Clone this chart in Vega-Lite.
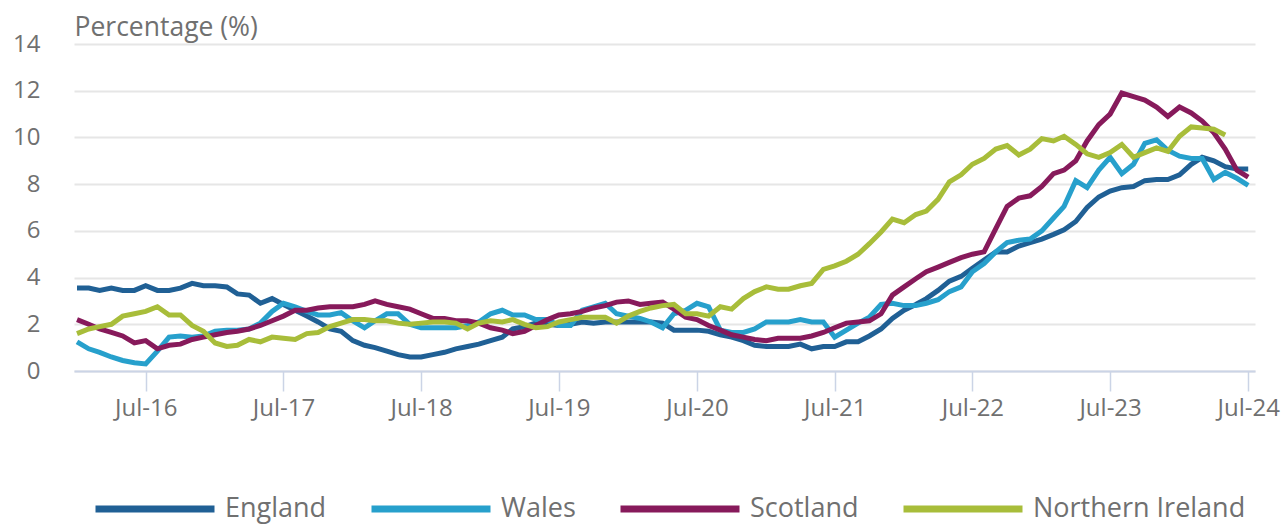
{
 "$schema": "https://vega.github.io/schema/vega-lite/v6.json",
 "width": 1181, "height": 327,
 "autosize": {"type": "none"},
 "padding": {"left": 74, "top": 44, "right": 30, "bottom": 156},
 "background": "white",
 "config": {"view": {"stroke": null}, "font": "Open Sans"},
 "data": {"values": [
{"date":"2016-01-01","region":"England","value":3.55},{"date":"2016-01-01","region":"Wales","value":1.25},{"date":"2016-01-01","region":"Scotland","value":2.2},{"date":"2016-01-01","region":"Northern Ireland","value":1.6},
{"date":"2016-02-01","region":"England","value":3.55},{"date":"2016-02-01","region":"Wales","value":0.95},{"date":"2016-02-01","region":"Scotland","value":2.0},{"date":"2016-02-01","region":"Northern Ireland","value":1.8},
{"date":"2016-03-01","region":"England","value":3.45},{"date":"2016-03-01","region":"Wales","value":0.8},{"date":"2016-03-01","region":"Scotland","value":1.8},{"date":"2016-03-01","region":"Northern Ireland","value":1.9},
{"date":"2016-04-01","region":"England","value":3.55},{"date":"2016-04-01","region":"Wales","value":0.6},{"date":"2016-04-01","region":"Scotland","value":1.65},{"date":"2016-04-01","region":"Northern Ireland","value":2.0},
{"date":"2016-05-01","region":"England","value":3.45},{"date":"2016-05-01","region":"Wales","value":0.45},{"date":"2016-05-01","region":"Scotland","value":1.5},{"date":"2016-05-01","region":"Northern Ireland","value":2.35},
{"date":"2016-06-01","region":"England","value":3.45},{"date":"2016-06-01","region":"Wales","value":0.35},{"date":"2016-06-01","region":"Scotland","value":1.2},{"date":"2016-06-01","region":"Northern Ireland","value":2.45},
{"date":"2016-07-01","region":"England","value":3.65},{"date":"2016-07-01","region":"Wales","value":0.3},{"date":"2016-07-01","region":"Scotland","value":1.3},{"date":"2016-07-01","region":"Northern Ireland","value":2.55},
{"date":"2016-08-01","region":"England","value":3.45},{"date":"2016-08-01","region":"Wales","value":0.85},{"date":"2016-08-01","region":"Scotland","value":0.95},{"date":"2016-08-01","region":"Northern Ireland","value":2.75},
{"date":"2016-09-01","region":"England","value":3.45},{"date":"2016-09-01","region":"Wales","value":1.45},{"date":"2016-09-01","region":"Scotland","value":1.1},{"date":"2016-09-01","region":"Northern Ireland","value":2.4},
{"date":"2016-10-01","region":"England","value":3.55},{"date":"2016-10-01","region":"Wales","value":1.5},{"date":"2016-10-01","region":"Scotland","value":1.15},{"date":"2016-10-01","region":"Northern Ireland","value":2.4},
{"date":"2016-11-01","region":"England","value":3.75},{"date":"2016-11-01","region":"Wales","value":1.45},{"date":"2016-11-01","region":"Scotland","value":1.35},{"date":"2016-11-01","region":"Northern Ireland","value":1.95},
{"date":"2016-12-01","region":"England","value":3.65},{"date":"2016-12-01","region":"Wales","value":1.5},{"date":"2016-12-01","region":"Scotland","value":1.45},{"date":"2016-12-01","region":"Northern Ireland","value":1.7},
{"date":"2017-01-01","region":"England","value":3.65},{"date":"2017-01-01","region":"Wales","value":1.7},{"date":"2017-01-01","region":"Scotland","value":1.55},{"date":"2017-01-01","region":"Northern Ireland","value":1.2},
{"date":"2017-02-01","region":"England","value":3.6},{"date":"2017-02-01","region":"Wales","value":1.75},{"date":"2017-02-01","region":"Scotland","value":1.65},{"date":"2017-02-01","region":"Northern Ireland","value":1.05},
{"date":"2017-03-01","region":"England","value":3.3},{"date":"2017-03-01","region":"Wales","value":1.75},{"date":"2017-03-01","region":"Scotland","value":1.7},{"date":"2017-03-01","region":"Northern Ireland","value":1.1},
{"date":"2017-04-01","region":"England","value":3.25},{"date":"2017-04-01","region":"Wales","value":1.8},{"date":"2017-04-01","region":"Scotland","value":1.8},{"date":"2017-04-01","region":"Northern Ireland","value":1.35},
{"date":"2017-05-01","region":"England","value":2.9},{"date":"2017-05-01","region":"Wales","value":2.05},{"date":"2017-05-01","region":"Scotland","value":1.95},{"date":"2017-05-01","region":"Northern Ireland","value":1.25},
{"date":"2017-06-01","region":"England","value":3.1},{"date":"2017-06-01","region":"Wales","value":2.55},{"date":"2017-06-01","region":"Scotland","value":2.15},{"date":"2017-06-01","region":"Northern Ireland","value":1.45},
{"date":"2017-07-01","region":"England","value":2.85},{"date":"2017-07-01","region":"Wales","value":2.9},{"date":"2017-07-01","region":"Scotland","value":2.35},{"date":"2017-07-01","region":"Northern Ireland","value":1.4},
{"date":"2017-08-01","region":"England","value":2.6},{"date":"2017-08-01","region":"Wales","value":2.75},{"date":"2017-08-01","region":"Scotland","value":2.6},{"date":"2017-08-01","region":"Northern Ireland","value":1.35},
{"date":"2017-09-01","region":"England","value":2.35},{"date":"2017-09-01","region":"Wales","value":2.55},{"date":"2017-09-01","region":"Scotland","value":2.6},{"date":"2017-09-01","region":"Northern Ireland","value":1.6},
{"date":"2017-10-01","region":"England","value":2.1},{"date":"2017-10-01","region":"Wales","value":2.4},{"date":"2017-10-01","region":"Scotland","value":2.7},{"date":"2017-10-01","region":"Northern Ireland","value":1.65},
{"date":"2017-11-01","region":"England","value":1.8},{"date":"2017-11-01","region":"Wales","value":2.4},{"date":"2017-11-01","region":"Scotland","value":2.75},{"date":"2017-11-01","region":"Northern Ireland","value":1.9},
{"date":"2017-12-01","region":"England","value":1.7},{"date":"2017-12-01","region":"Wales","value":2.5},{"date":"2017-12-01","region":"Scotland","value":2.75},{"date":"2017-12-01","region":"Northern Ireland","value":2.05},
{"date":"2018-01-01","region":"England","value":1.3},{"date":"2018-01-01","region":"Wales","value":2.15},{"date":"2018-01-01","region":"Scotland","value":2.75},{"date":"2018-01-01","region":"Northern Ireland","value":2.2},
{"date":"2018-02-01","region":"England","value":1.1},{"date":"2018-02-01","region":"Wales","value":1.85},{"date":"2018-02-01","region":"Scotland","value":2.85},{"date":"2018-02-01","region":"Northern Ireland","value":2.2},
{"date":"2018-03-01","region":"England","value":1.0},{"date":"2018-03-01","region":"Wales","value":2.15},{"date":"2018-03-01","region":"Scotland","value":3.0},{"date":"2018-03-01","region":"Northern Ireland","value":2.15},
{"date":"2018-04-01","region":"England","value":0.85},{"date":"2018-04-01","region":"Wales","value":2.45},{"date":"2018-04-01","region":"Scotland","value":2.85},{"date":"2018-04-01","region":"Northern Ireland","value":2.15},
{"date":"2018-05-01","region":"England","value":0.7},{"date":"2018-05-01","region":"Wales","value":2.45},{"date":"2018-05-01","region":"Scotland","value":2.75},{"date":"2018-05-01","region":"Northern Ireland","value":2.05},
{"date":"2018-06-01","region":"England","value":0.6},{"date":"2018-06-01","region":"Wales","value":2.0},{"date":"2018-06-01","region":"Scotland","value":2.65},{"date":"2018-06-01","region":"Northern Ireland","value":2.0},
{"date":"2018-07-01","region":"England","value":0.6},{"date":"2018-07-01","region":"Wales","value":1.85},{"date":"2018-07-01","region":"Scotland","value":2.45},{"date":"2018-07-01","region":"Northern Ireland","value":2.05},
{"date":"2018-08-01","region":"England","value":0.7},{"date":"2018-08-01","region":"Wales","value":1.85},{"date":"2018-08-01","region":"Scotland","value":2.25},{"date":"2018-08-01","region":"Northern Ireland","value":2.1},
{"date":"2018-09-01","region":"England","value":0.8},{"date":"2018-09-01","region":"Wales","value":1.85},{"date":"2018-09-01","region":"Scotland","value":2.25},{"date":"2018-09-01","region":"Northern Ireland","value":2.1},
{"date":"2018-10-01","region":"England","value":0.95},{"date":"2018-10-01","region":"Wales","value":1.85},{"date":"2018-10-01","region":"Scotland","value":2.15},{"date":"2018-10-01","region":"Northern Ireland","value":2.05},
{"date":"2018-11-01","region":"England","value":1.05},{"date":"2018-11-01","region":"Wales","value":1.95},{"date":"2018-11-01","region":"Scotland","value":2.15},{"date":"2018-11-01","region":"Northern Ireland","value":1.8},
{"date":"2018-12-01","region":"England","value":1.15},{"date":"2018-12-01","region":"Wales","value":2.1},{"date":"2018-12-01","region":"Scotland","value":2.05},{"date":"2018-12-01","region":"Northern Ireland","value":2.05},
{"date":"2019-01-01","region":"England","value":1.3},{"date":"2019-01-01","region":"Wales","value":2.45},{"date":"2019-01-01","region":"Scotland","value":1.85},{"date":"2019-01-01","region":"Northern Ireland","value":2.15},
{"date":"2019-02-01","region":"England","value":1.45},{"date":"2019-02-01","region":"Wales","value":2.6},{"date":"2019-02-01","region":"Scotland","value":1.75},{"date":"2019-02-01","region":"Northern Ireland","value":2.1},
{"date":"2019-03-01","region":"England","value":1.8},{"date":"2019-03-01","region":"Wales","value":2.4},{"date":"2019-03-01","region":"Scotland","value":1.6},{"date":"2019-03-01","region":"Northern Ireland","value":2.2},
{"date":"2019-04-01","region":"England","value":1.9},{"date":"2019-04-01","region":"Wales","value":2.4},{"date":"2019-04-01","region":"Scotland","value":1.7},{"date":"2019-04-01","region":"Northern Ireland","value":2.0},
{"date":"2019-05-01","region":"England","value":2.05},{"date":"2019-05-01","region":"Wales","value":2.2},{"date":"2019-05-01","region":"Scotland","value":1.95},{"date":"2019-05-01","region":"Northern Ireland","value":1.85},
{"date":"2019-06-01","region":"England","value":2.0},{"date":"2019-06-01","region":"Wales","value":2.2},{"date":"2019-06-01","region":"Scotland","value":2.2},{"date":"2019-06-01","region":"Northern Ireland","value":1.9},
{"date":"2019-07-01","region":"England","value":1.95},{"date":"2019-07-01","region":"Wales","value":1.95},{"date":"2019-07-01","region":"Scotland","value":2.4},{"date":"2019-07-01","region":"Northern Ireland","value":2.1},
{"date":"2019-08-01","region":"England","value":2.0},{"date":"2019-08-01","region":"Wales","value":1.95},{"date":"2019-08-01","region":"Scotland","value":2.45},{"date":"2019-08-01","region":"Northern Ireland","value":2.2},
{"date":"2019-09-01","region":"England","value":2.1},{"date":"2019-09-01","region":"Wales","value":2.6},{"date":"2019-09-01","region":"Scotland","value":2.55},{"date":"2019-09-01","region":"Northern Ireland","value":2.3},
{"date":"2019-10-01","region":"England","value":2.05},{"date":"2019-10-01","region":"Wales","value":2.75},{"date":"2019-10-01","region":"Scotland","value":2.7},{"date":"2019-10-01","region":"Northern Ireland","value":2.3},
{"date":"2019-11-01","region":"England","value":2.1},{"date":"2019-11-01","region":"Wales","value":2.9},{"date":"2019-11-01","region":"Scotland","value":2.8},{"date":"2019-11-01","region":"Northern Ireland","value":2.3},
{"date":"2019-12-01","region":"England","value":2.1},{"date":"2019-12-01","region":"Wales","value":2.45},{"date":"2019-12-01","region":"Scotland","value":2.95},{"date":"2019-12-01","region":"Northern Ireland","value":2.05},
{"date":"2020-01-01","region":"England","value":2.1},{"date":"2020-01-01","region":"Wales","value":2.35},{"date":"2020-01-01","region":"Scotland","value":3.0},{"date":"2020-01-01","region":"Northern Ireland","value":2.35},
{"date":"2020-02-01","region":"England","value":2.1},{"date":"2020-02-01","region":"Wales","value":2.25},{"date":"2020-02-01","region":"Scotland","value":2.85},{"date":"2020-02-01","region":"Northern Ireland","value":2.55},
{"date":"2020-03-01","region":"England","value":2.1},{"date":"2020-03-01","region":"Wales","value":2.1},{"date":"2020-03-01","region":"Scotland","value":2.9},{"date":"2020-03-01","region":"Northern Ireland","value":2.7},
{"date":"2020-04-01","region":"England","value":2.05},{"date":"2020-04-01","region":"Wales","value":1.85},{"date":"2020-04-01","region":"Scotland","value":2.95},{"date":"2020-04-01","region":"Northern Ireland","value":2.8},
{"date":"2020-05-01","region":"England","value":1.75},{"date":"2020-05-01","region":"Wales","value":2.45},{"date":"2020-05-01","region":"Scotland","value":2.65},{"date":"2020-05-01","region":"Northern Ireland","value":2.85},
{"date":"2020-06-01","region":"England","value":1.75},{"date":"2020-06-01","region":"Wales","value":2.6},{"date":"2020-06-01","region":"Scotland","value":2.3},{"date":"2020-06-01","region":"Northern Ireland","value":2.45},
{"date":"2020-07-01","region":"England","value":1.75},{"date":"2020-07-01","region":"Wales","value":2.9},{"date":"2020-07-01","region":"Scotland","value":2.2},{"date":"2020-07-01","region":"Northern Ireland","value":2.45},
{"date":"2020-08-01","region":"England","value":1.7},{"date":"2020-08-01","region":"Wales","value":2.75},{"date":"2020-08-01","region":"Scotland","value":1.95},{"date":"2020-08-01","region":"Northern Ireland","value":2.35},
{"date":"2020-09-01","region":"England","value":1.55},{"date":"2020-09-01","region":"Wales","value":1.75},{"date":"2020-09-01","region":"Scotland","value":1.75},{"date":"2020-09-01","region":"Northern Ireland","value":2.75},
{"date":"2020-10-01","region":"England","value":1.45},{"date":"2020-10-01","region":"Wales","value":1.65},{"date":"2020-10-01","region":"Scotland","value":1.55},{"date":"2020-10-01","region":"Northern Ireland","value":2.65},
{"date":"2020-11-01","region":"England","value":1.3},{"date":"2020-11-01","region":"Wales","value":1.65},{"date":"2020-11-01","region":"Scotland","value":1.45},{"date":"2020-11-01","region":"Northern Ireland","value":3.1},
{"date":"2020-12-01","region":"England","value":1.1},{"date":"2020-12-01","region":"Wales","value":1.8},{"date":"2020-12-01","region":"Scotland","value":1.35},{"date":"2020-12-01","region":"Northern Ireland","value":3.4},
{"date":"2021-01-01","region":"England","value":1.05},{"date":"2021-01-01","region":"Wales","value":2.1},{"date":"2021-01-01","region":"Scotland","value":1.3},{"date":"2021-01-01","region":"Northern Ireland","value":3.6},
{"date":"2021-02-01","region":"England","value":1.05},{"date":"2021-02-01","region":"Wales","value":2.1},{"date":"2021-02-01","region":"Scotland","value":1.4},{"date":"2021-02-01","region":"Northern Ireland","value":3.5},
{"date":"2021-03-01","region":"England","value":1.05},{"date":"2021-03-01","region":"Wales","value":2.1},{"date":"2021-03-01","region":"Scotland","value":1.4},{"date":"2021-03-01","region":"Northern Ireland","value":3.5},
{"date":"2021-04-01","region":"England","value":1.15},{"date":"2021-04-01","region":"Wales","value":2.2},{"date":"2021-04-01","region":"Scotland","value":1.4},{"date":"2021-04-01","region":"Northern Ireland","value":3.65},
{"date":"2021-05-01","region":"England","value":0.95},{"date":"2021-05-01","region":"Wales","value":2.1},{"date":"2021-05-01","region":"Scotland","value":1.5},{"date":"2021-05-01","region":"Northern Ireland","value":3.75},
{"date":"2021-06-01","region":"England","value":1.05},{"date":"2021-06-01","region":"Wales","value":2.1},{"date":"2021-06-01","region":"Scotland","value":1.65},{"date":"2021-06-01","region":"Northern Ireland","value":4.35},
{"date":"2021-07-01","region":"England","value":1.05},{"date":"2021-07-01","region":"Wales","value":1.45},{"date":"2021-07-01","region":"Scotland","value":1.85},{"date":"2021-07-01","region":"Northern Ireland","value":4.5},
{"date":"2021-08-01","region":"England","value":1.25},{"date":"2021-08-01","region":"Wales","value":1.75},{"date":"2021-08-01","region":"Scotland","value":2.05},{"date":"2021-08-01","region":"Northern Ireland","value":4.7},
{"date":"2021-09-01","region":"England","value":1.25},{"date":"2021-09-01","region":"Wales","value":2.05},{"date":"2021-09-01","region":"Scotland","value":2.1},{"date":"2021-09-01","region":"Northern Ireland","value":5.0},
{"date":"2021-10-01","region":"England","value":1.5},{"date":"2021-10-01","region":"Wales","value":2.3},{"date":"2021-10-01","region":"Scotland","value":2.15},{"date":"2021-10-01","region":"Northern Ireland","value":5.45},
{"date":"2021-11-01","region":"England","value":1.8},{"date":"2021-11-01","region":"Wales","value":2.85},{"date":"2021-11-01","region":"Scotland","value":2.45},{"date":"2021-11-01","region":"Northern Ireland","value":5.95},
{"date":"2021-12-01","region":"England","value":2.25},{"date":"2021-12-01","region":"Wales","value":2.9},{"date":"2021-12-01","region":"Scotland","value":3.25},{"date":"2021-12-01","region":"Northern Ireland","value":6.5},
{"date":"2022-01-01","region":"England","value":2.6},{"date":"2022-01-01","region":"Wales","value":2.8},{"date":"2022-01-01","region":"Scotland","value":3.6},{"date":"2022-01-01","region":"Northern Ireland","value":6.35},
{"date":"2022-02-01","region":"England","value":2.85},{"date":"2022-02-01","region":"Wales","value":2.8},{"date":"2022-02-01","region":"Scotland","value":3.95},{"date":"2022-02-01","region":"Northern Ireland","value":6.7},
{"date":"2022-03-01","region":"England","value":3.1},{"date":"2022-03-01","region":"Wales","value":2.9},{"date":"2022-03-01","region":"Scotland","value":4.25},{"date":"2022-03-01","region":"Northern Ireland","value":6.85},
{"date":"2022-04-01","region":"England","value":3.45},{"date":"2022-04-01","region":"Wales","value":3.05},{"date":"2022-04-01","region":"Scotland","value":4.45},{"date":"2022-04-01","region":"Northern Ireland","value":7.35},
{"date":"2022-05-01","region":"England","value":3.85},{"date":"2022-05-01","region":"Wales","value":3.4},{"date":"2022-05-01","region":"Scotland","value":4.65},{"date":"2022-05-01","region":"Northern Ireland","value":8.1},
{"date":"2022-06-01","region":"England","value":4.05},{"date":"2022-06-01","region":"Wales","value":3.6},{"date":"2022-06-01","region":"Scotland","value":4.85},{"date":"2022-06-01","region":"Northern Ireland","value":8.4},
{"date":"2022-07-01","region":"England","value":4.4},{"date":"2022-07-01","region":"Wales","value":4.25},{"date":"2022-07-01","region":"Scotland","value":5.0},{"date":"2022-07-01","region":"Northern Ireland","value":8.85},
{"date":"2022-08-01","region":"England","value":4.75},{"date":"2022-08-01","region":"Wales","value":4.6},{"date":"2022-08-01","region":"Scotland","value":5.1},{"date":"2022-08-01","region":"Northern Ireland","value":9.1},
{"date":"2022-09-01","region":"England","value":5.1},{"date":"2022-09-01","region":"Wales","value":5.1},{"date":"2022-09-01","region":"Scotland","value":6.1},{"date":"2022-09-01","region":"Northern Ireland","value":9.5},
{"date":"2022-10-01","region":"England","value":5.1},{"date":"2022-10-01","region":"Wales","value":5.5},{"date":"2022-10-01","region":"Scotland","value":7.05},{"date":"2022-10-01","region":"Northern Ireland","value":9.65},
{"date":"2022-11-01","region":"England","value":5.35},{"date":"2022-11-01","region":"Wales","value":5.6},{"date":"2022-11-01","region":"Scotland","value":7.4},{"date":"2022-11-01","region":"Northern Ireland","value":9.25},
{"date":"2022-12-01","region":"England","value":5.5},{"date":"2022-12-01","region":"Wales","value":5.65},{"date":"2022-12-01","region":"Scotland","value":7.5},{"date":"2022-12-01","region":"Northern Ireland","value":9.5},
{"date":"2023-01-01","region":"England","value":5.65},{"date":"2023-01-01","region":"Wales","value":6.0},{"date":"2023-01-01","region":"Scotland","value":7.9},{"date":"2023-01-01","region":"Northern Ireland","value":9.95},
{"date":"2023-02-01","region":"England","value":5.85},{"date":"2023-02-01","region":"Wales","value":6.55},{"date":"2023-02-01","region":"Scotland","value":8.45},{"date":"2023-02-01","region":"Northern Ireland","value":9.85},
{"date":"2023-03-01","region":"England","value":6.05},{"date":"2023-03-01","region":"Wales","value":7.05},{"date":"2023-03-01","region":"Scotland","value":8.6},{"date":"2023-03-01","region":"Northern Ireland","value":10.05},
{"date":"2023-04-01","region":"England","value":6.4},{"date":"2023-04-01","region":"Wales","value":8.15},{"date":"2023-04-01","region":"Scotland","value":9.0},{"date":"2023-04-01","region":"Northern Ireland","value":9.7},
{"date":"2023-05-01","region":"England","value":7.0},{"date":"2023-05-01","region":"Wales","value":7.85},{"date":"2023-05-01","region":"Scotland","value":9.85},{"date":"2023-05-01","region":"Northern Ireland","value":9.3},
{"date":"2023-06-01","region":"England","value":7.45},{"date":"2023-06-01","region":"Wales","value":8.6},{"date":"2023-06-01","region":"Scotland","value":10.55},{"date":"2023-06-01","region":"Northern Ireland","value":9.15},
{"date":"2023-07-01","region":"England","value":7.7},{"date":"2023-07-01","region":"Wales","value":9.15},{"date":"2023-07-01","region":"Scotland","value":11.0},{"date":"2023-07-01","region":"Northern Ireland","value":9.35},
{"date":"2023-08-01","region":"England","value":7.85},{"date":"2023-08-01","region":"Wales","value":8.45},{"date":"2023-08-01","region":"Scotland","value":11.9},{"date":"2023-08-01","region":"Northern Ireland","value":9.7},
{"date":"2023-09-01","region":"England","value":7.9},{"date":"2023-09-01","region":"Wales","value":8.85},{"date":"2023-09-01","region":"Scotland","value":11.75},{"date":"2023-09-01","region":"Northern Ireland","value":9.15},
{"date":"2023-10-01","region":"England","value":8.15},{"date":"2023-10-01","region":"Wales","value":9.75},{"date":"2023-10-01","region":"Scotland","value":11.6},{"date":"2023-10-01","region":"Northern Ireland","value":9.35},
{"date":"2023-11-01","region":"England","value":8.2},{"date":"2023-11-01","region":"Wales","value":9.9},{"date":"2023-11-01","region":"Scotland","value":11.3},{"date":"2023-11-01","region":"Northern Ireland","value":9.55},
{"date":"2023-12-01","region":"England","value":8.2},{"date":"2023-12-01","region":"Wales","value":9.45},{"date":"2023-12-01","region":"Scotland","value":10.9},{"date":"2023-12-01","region":"Northern Ireland","value":9.4},
{"date":"2024-01-01","region":"England","value":8.4},{"date":"2024-01-01","region":"Wales","value":9.2},{"date":"2024-01-01","region":"Scotland","value":11.3},{"date":"2024-01-01","region":"Northern Ireland","value":10.05},
{"date":"2024-02-01","region":"England","value":8.85},{"date":"2024-02-01","region":"Wales","value":9.1},{"date":"2024-02-01","region":"Scotland","value":11.05},{"date":"2024-02-01","region":"Northern Ireland","value":10.45},
{"date":"2024-03-01","region":"England","value":9.15},{"date":"2024-03-01","region":"Wales","value":9.1},{"date":"2024-03-01","region":"Scotland","value":10.7},{"date":"2024-03-01","region":"Northern Ireland","value":10.4},
{"date":"2024-04-01","region":"England","value":9.0},{"date":"2024-04-01","region":"Wales","value":8.2},{"date":"2024-04-01","region":"Scotland","value":10.2},{"date":"2024-04-01","region":"Northern Ireland","value":10.35},
{"date":"2024-05-01","region":"England","value":8.75},{"date":"2024-05-01","region":"Wales","value":8.5},{"date":"2024-05-01","region":"Scotland","value":9.5},{"date":"2024-05-01","region":"Northern Ireland","value":10.1},
{"date":"2024-06-01","region":"England","value":8.65},{"date":"2024-06-01","region":"Wales","value":8.25},{"date":"2024-06-01","region":"Scotland","value":8.6},
{"date":"2024-07-01","region":"England","value":8.65},{"date":"2024-07-01","region":"Wales","value":7.95},{"date":"2024-07-01","region":"Scotland","value":8.3}
 ]},
 "mark": {"type": "line", "strokeWidth": 5},
 "encoding": {
  "x": {
   "field": "date", "type": "temporal",
   "scale": {"type": "utc", "domain": [{"year": 2015, "month": 12, "date": 24, "utc": true}, {"year": 2024, "month": 7, "date": 19, "utc": true}]},
   "axis": {
    "title": null, "format": "%b-%y",
    "values": [{"year": 2016, "month": 7, "date": 1, "utc": true}, {"year": 2017, "month": 7, "date": 1, "utc": true}, {"year": 2018, "month": 7, "date": 1, "utc": true}, {"year": 2019, "month": 7, "date": 1, "utc": true}, {"year": 2020, "month": 7, "date": 1, "utc": true}, {"year": 2021, "month": 7, "date": 1, "utc": true}, {"year": 2022, "month": 7, "date": 1, "utc": true}, {"year": 2023, "month": 7, "date": 1, "utc": true}, {"year": 2024, "month": 7, "date": 1, "utc": true}],
    "grid": false, "domainColor": "#cbd4e6", "domainWidth": 2,
    "tickColor": "#cbd4e6", "tickSize": 20, "tickWidth": 1.5,
    "labelFontSize": 24, "labelColor": "#707070", "labelPadding": 5, "labelFont": "Open Sans",
    "labelOverlap": false, "labelFlush": false
   }
  },
  "y": {
   "field": "value", "type": "quantitative",
   "scale": {"domain": [0, 14]},
   "axis": {
    "title": "Percentage (%)", "titleAngle": 0, "titleAlign": "left", "titleBaseline": "alphabetic",
    "titleX": 0, "titleY": -9, "titleFontSize": 26.5, "titleFontWeight": "normal", "titleColor": "#707070", "titleFont": "Open Sans",
    "values": [0, 2, 4, 6, 8, 10, 12, 14],
    "domain": false, "ticks": false, "labelPadding": 34,
    "labelFontSize": 24, "labelColor": "#707070", "labelFont": "Open Sans",
    "gridColor": "#e6e6e6", "gridWidth": 2
   }
  },
  "color": {
   "field": "region", "type": "nominal",
   "scale": {"domain": ["England", "Wales", "Scotland", "Northern Ireland"], "range": ["#206095", "#27a0cc", "#871a5b", "#a8bd3a"]},
   "legend": {
    "orient": "none", "legendX": 18, "legendY": 402, "direction": "horizontal", "columns": 4,
    "title": null, "symbolType": "stroke", "symbolSize": 14161, "symbolStrokeWidth": 7,
    "labelFontSize": 27, "labelFont": "Open Sans", "labelColor": "#707070", "labelLimit": 500,
    "columnPadding": 30, "labelOffset": 7, "padding": 0
   }
  }
 }
}
